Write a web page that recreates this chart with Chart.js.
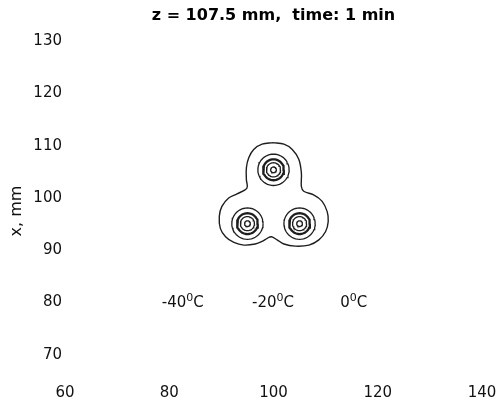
<!DOCTYPE html>
<html>
<head>
<meta charset="utf-8">
<script src="https://cdn.jsdelivr.net/npm/chart.js@4"></script>
<style>
  html, body { margin: 0; padding: 0; background: #fff; }
  #wrap { width: 500px; height: 405px; }
</style>
</head>
<body>
<div id="wrap"><canvas id="chart"></canvas></div>
<script>
// tick values
const xTicks = [60, 80, 100, 120, 140];
const yTicks = [70, 80, 90, 100, 110, 120, 130];

// centres of the three cold spots (mm) and the radii of their rings (mm)
const spotX = [100, 95, 105];
const spotY = [105.4, 95.1, 95.1];
const ringR = [0.55, 1.35, 2.0, 3.0];

// outer contour
const outerX = [99.9, 97.8, 96.2, 95.25, 94.8, 94.8, 94.9, 93.0, 91.4, 90.1, 89.6, 89.8, 90.8, 92.4, 94.3, 96.5, 97.8, 98.8, 99.6,
  100.7, 102.0, 104.2, 106.8, 108.7, 110.0, 110.5, 110.3, 109.3, 107.7, 105.8, 105.35, 105.35, 104.85, 103.6, 102.0, 99.9];
const outerY = [110.6, 110.3, 109.3, 107.7, 105.8, 103.5, 101.9, 100.8, 100.0, 98.4, 96.5, 94.2, 92.6, 91.5, 91.0, 91.2, 91.7, 92.3, 92.6,
  92.0, 91.2, 90.8, 91.0, 92.0, 93.6, 95.5, 97.4, 99.4, 100.6, 101.3, 102.2, 104.8, 107.4, 109.3, 110.3, 110.6];

// contour level labels (value, then unit after a raised 0)
const levelText = ['-40', '-20', '0'];
const levelX = [82.6, 99.9, 115.4];
const levelY = [80.3, 80.3, 80.3];

const lineColor = '#1e1e1e';
const datasets = [];

datasets.push({
  data: outerX.map((x, i) => ({ x: x, y: outerY[i] })),
  showLine: true, tension: 0.35, borderColor: lineColor, borderWidth: 1.4, pointRadius: 0, fill: false
});

// rings round each spot
for (let s = 0; s < spotX.length; s++) {
  for (let r = 0; r < ringR.length; r++) {
    let pts = [];
    for (let k = 0; k <= 48; k++) {
      let a = k / 48 * Math.PI * 2;
      pts.push({ x: spotX[s] + ringR[r] * Math.cos(a), y: spotY[s] + ringR[r] * Math.sin(a) });
    }
    datasets.push({
      data: pts, showLine: true, tension: 0, borderColor: lineColor,
      borderWidth: r == 2 ? 2.3 : 1.3, pointRadius: 0, fill: false
    });
  }
}

const levelLabels = {
  id: 'levelLabels',
  afterDatasetsDraw(chart) {
    const c = chart.ctx;
    const sx = chart.scales.x, sy = chart.scales.y;
    c.save();
    c.fillStyle = '#111';
    c.textBaseline = 'alphabetic';
    c.textAlign = 'left';
    for (let i = 0; i < levelText.length; i++) {
      const big = '15px "DejaVu Sans"', small = '11px "DejaVu Sans"';
      c.font = big;
      const w1 = c.measureText(levelText[i]).width;
      const w3 = c.measureText('C').width;
      c.font = small;
      const w2 = c.measureText('0').width;
      let x = sx.getPixelForValue(levelX[i]) - (w1 + w2 + w3) / 2;
      const y = sy.getPixelForValue(levelY[i]) + 6;
      c.font = big;
      c.fillText(levelText[i], x, y);
      x += w1;
      c.font = small;
      c.fillText('0', x, y - 6);
      x += w2;
      c.font = big;
      c.fillText('C', x, y);
    }
    c.restore();
  }
};

const tickFont = { family: 'DejaVu Sans', size: 15 };

new Chart(document.getElementById('chart'), {
  type: 'scatter',
  data: { datasets: datasets },
  options: {
    responsive: true,
    maintainAspectRatio: false,
    animation: false,
    layout: { padding: { left: 0, right: 18, top: 0, bottom: 0 } },
    plugins: {
      legend: { display: false },
      tooltip: { enabled: false },
      title: {
        display: true,
        fullSize: false,
        text: 'z = 107.5 mm,  time: 1 min',
        color: '#000',
        font: { family: 'DejaVu Sans', size: 16, weight: 'bold' },
        padding: { top: 6, bottom: 16 }
      }
    },
    scales: {
      x: {
        type: 'linear', min: 60, max: 140,
        grid: { display: false, drawTicks: false },
        border: { display: false },
        afterBuildTicks: s => { s.ticks = xTicks.map(v => ({ value: v })); },
        afterFit: s => { s.height = 24; },
        ticks: { color: '#111', font: tickFont, padding: 3, maxRotation: 0 }
      },
      y: {
        type: 'linear', min: 65, max: 130,
        grid: { display: false, drawTicks: false },
        border: { display: false },
        afterBuildTicks: s => { s.ticks = yTicks.map(v => ({ value: v })); },
        afterFit: s => { s.width = 65; },
        title: { display: true, text: 'x, mm', color: '#111', font: { family: 'DejaVu Sans', size: 16 }, padding: { top: 7, bottom: 0 } },
        ticks: { color: '#111', font: tickFont, padding: 3 }
      }
    }
  },
  plugins: [levelLabels]
});
</script>
</body>
</html>
